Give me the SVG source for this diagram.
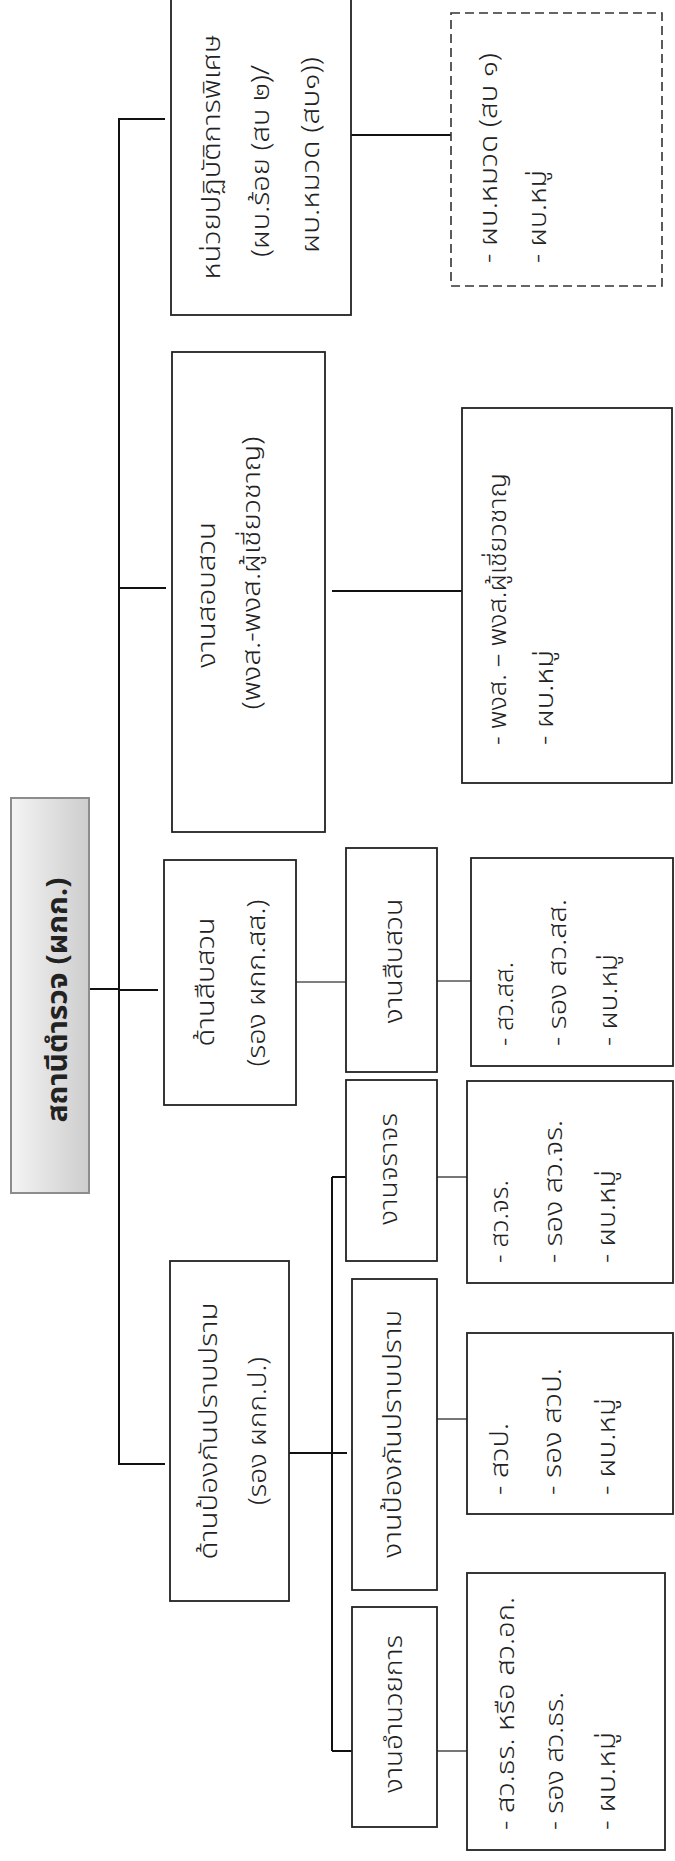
<svg xmlns="http://www.w3.org/2000/svg" width="675" height="1861" viewBox="0 0 675 1861">
<style>
text{font-family:"Noto Sans Thai","Noto Sans","DejaVu Sans",sans-serif;font-size:25px;font-weight:300;fill:#222}
.b{fill:#fff;stroke:#222;stroke-width:1.8}
.d{fill:#fff;stroke:#333;stroke-width:1.6;stroke-dasharray:9 5}
.k{stroke:#111;stroke-width:2;fill:none}
.g{stroke:#555;stroke-width:1.6;fill:none}
.m{text-anchor:middle}
.s{text-anchor:start}
.r{font-weight:bold;font-size:28px}
</style>
<defs>
<linearGradient id="rg" x1="0" y1="0" x2="1" y2="0">
<stop offset="0" stop-color="#f4f4f4"/>
<stop offset="1" stop-color="#cdcdcd"/>
</linearGradient>
</defs>
<g id="connectors">
<line class="k" x1="89" y1="989" x2="119" y2="989"/>
<line class="k" x1="119" y1="118" x2="119" y2="1465" stroke-width="2.5"/>
<line class="k" x1="119" y1="119" x2="165" y2="119"/>
<line class="k" x1="119" y1="588" x2="166" y2="588"/>
<line class="k" x1="119" y1="990" x2="158" y2="990"/>
<line class="k" x1="119" y1="1464" x2="165" y2="1464"/>
<line class="k" x1="351" y1="135" x2="451" y2="135"/>
<line class="k" x1="332" y1="591" x2="462" y2="591"/>
<line class="g" x1="296" y1="982" x2="346" y2="982"/>
<line class="k" x1="289" y1="1453" x2="347" y2="1453"/>
<line class="k" x1="332" y1="1177" x2="332" y2="1751"/>
<line class="k" x1="332" y1="1177" x2="346" y2="1177"/>
<line class="k" x1="332" y1="1751" x2="352" y2="1751"/>
<line class="g" x1="437" y1="981" x2="471" y2="981"/>
<line class="g" x1="437" y1="1177" x2="467" y2="1177"/>
<line class="g" x1="437" y1="1419" x2="467" y2="1419"/>
<line class="g" x1="437" y1="1751" x2="467" y2="1751"/>
</g>
<g id="root">
<rect x="11" y="798" width="78" height="395" fill="url(#rg)" stroke="#8c8c8c" stroke-width="2"/>
<text class="m r" transform="translate(67,1000) rotate(-90)" textLength="245" lengthAdjust="spacingAndGlyphs">สถานีตำรวจ (ผกก.)</text>
</g>
<g id="special-unit">
<rect class="b" x="171" y="-2" width="180" height="317"/>
<text class="m" transform="translate(220,157) rotate(-90)" textLength="245" lengthAdjust="spacingAndGlyphs">หน่วยปฏิบัติการพิเศษ</text>
<text class="m" transform="translate(269,161) rotate(-90)" textLength="192" lengthAdjust="spacingAndGlyphs">(ผบ.ร้อย (สบ ๒)/</text>
<text class="m" transform="translate(319,155) rotate(-90)" textLength="196" lengthAdjust="spacingAndGlyphs">ผบ.หมวด (สบ๑))</text>
</g>
<g id="special-unit-list">
<rect class="d" x="451" y="13" width="211" height="273"/>
<text class="s" transform="translate(497,263) rotate(-90)" textLength="210" lengthAdjust="spacingAndGlyphs">- ผบ.หมวด (สบ ๑)</text>
<text class="s" transform="translate(546,263) rotate(-90)" textLength="93" lengthAdjust="spacingAndGlyphs">- ผบ.หมู่</text>
</g>
<g id="inquiry">
<rect class="b" x="172" y="352" width="153" height="480"/>
<text class="m" transform="translate(215,595) rotate(-90)" textLength="146" lengthAdjust="spacingAndGlyphs">งานสอบสวน</text>
<text class="m" transform="translate(260,573) rotate(-90)" textLength="273" lengthAdjust="spacingAndGlyphs">(พงส.-พงส.ผู้เชี่ยวชาญ)</text>
</g>
<g id="inquiry-list">
<rect class="b" x="462" y="408" width="210" height="375"/>
<text class="s" transform="translate(506,745) rotate(-90)" textLength="272" lengthAdjust="spacingAndGlyphs">- พงส. – พงส.ผู้เชี่ยวชาญ</text>
<text class="s" transform="translate(553,745) rotate(-90)" textLength="95" lengthAdjust="spacingAndGlyphs">- ผบ.หมู่</text>
</g>
<g id="investigation-div">
<rect class="b" x="164" y="860" width="132" height="245"/>
<text class="m" transform="translate(214,982) rotate(-90)" textLength="129" lengthAdjust="spacingAndGlyphs">ด้านสืบสวน</text>
<text class="m" transform="translate(265,983) rotate(-90)" textLength="167" lengthAdjust="spacingAndGlyphs">(รอง ผกก.สส.)</text>
</g>
<g id="investigation">
<rect class="b" x="346" y="848" width="91" height="224"/>
<text class="m" transform="translate(402,961) rotate(-90)" textLength="125" lengthAdjust="spacingAndGlyphs">งานสืบสวน</text>
</g>
<g id="investigation-list">
<rect class="b" x="471" y="858" width="202" height="208"/>
<text class="s" transform="translate(513,1046) rotate(-90)" textLength="84" lengthAdjust="spacingAndGlyphs">- สว.สส.</text>
<text class="s" transform="translate(566,1046) rotate(-90)" textLength="147" lengthAdjust="spacingAndGlyphs">- รอง สว.สส.</text>
<text class="s" transform="translate(617,1046) rotate(-90)" textLength="92" lengthAdjust="spacingAndGlyphs">- ผบ.หมู่</text>
</g>
<g id="traffic">
<rect class="b" x="346" y="1080" width="91" height="181"/>
<text class="m" transform="translate(397,1169) rotate(-90)" textLength="112" lengthAdjust="spacingAndGlyphs">งานจราจร</text>
</g>
<g id="traffic-list">
<rect class="b" x="467" y="1081" width="206" height="202"/>
<text class="s" transform="translate(508,1263) rotate(-90)" textLength="83" lengthAdjust="spacingAndGlyphs">- สว.จร.</text>
<text class="s" transform="translate(562,1263) rotate(-90)" textLength="143" lengthAdjust="spacingAndGlyphs">- รอง สว.จร.</text>
<text class="s" transform="translate(615,1263) rotate(-90)" textLength="93" lengthAdjust="spacingAndGlyphs">- ผบ.หมู่</text>
</g>
<g id="prevention-div">
<rect class="b" x="170" y="1261" width="119" height="340"/>
<text class="m" transform="translate(217,1431) rotate(-90)" textLength="257" lengthAdjust="spacingAndGlyphs">ด้านป้องกันปราบปราม</text>
<text class="m" transform="translate(266,1431) rotate(-90)" textLength="148" lengthAdjust="spacingAndGlyphs">(รอง ผกก.ป.)</text>
</g>
<g id="prevention">
<rect class="b" x="352" y="1279" width="85" height="311"/>
<text class="m" transform="translate(401,1434) rotate(-90)" textLength="248" lengthAdjust="spacingAndGlyphs">งานป้องกันปราบปราม</text>
</g>
<g id="prevention-list">
<rect class="b" x="467" y="1333" width="206" height="181"/>
<text class="s" transform="translate(508,1495) rotate(-90)" textLength="72" lengthAdjust="spacingAndGlyphs">- สวป.</text>
<text class="s" transform="translate(561,1495) rotate(-90)" textLength="127" lengthAdjust="spacingAndGlyphs">- รอง สวป.</text>
<text class="s" transform="translate(615,1495) rotate(-90)" textLength="97" lengthAdjust="spacingAndGlyphs">- ผบ.หมู่</text>
</g>
<g id="admin">
<rect class="b" x="352" y="1607" width="85" height="220"/>
<text class="m" transform="translate(402,1714) rotate(-90)" textLength="158" lengthAdjust="spacingAndGlyphs">งานอำนวยการ</text>
</g>
<g id="admin-list">
<rect class="b" x="467" y="1573" width="198" height="277"/>
<text class="s" transform="translate(514,1830) rotate(-90)" textLength="233" lengthAdjust="spacingAndGlyphs">- สว.ธร. หรือ สว.อก.</text>
<text class="s" transform="translate(563,1830) rotate(-90)" textLength="138" lengthAdjust="spacingAndGlyphs">- รอง สว.ธร.</text>
<text class="s" transform="translate(615,1830) rotate(-90)" textLength="98" lengthAdjust="spacingAndGlyphs">- ผบ.หมู่</text>
</g>
</svg>
